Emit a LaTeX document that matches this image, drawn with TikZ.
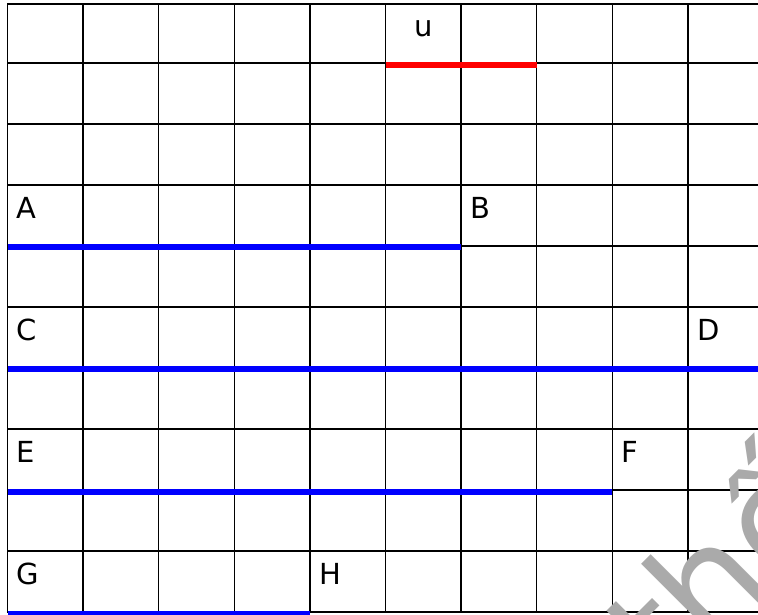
\documentclass[tikz,border=0pt]{standalone}
\usepackage{fontspec}
\setmainfont{DejaVu Sans}
\usetikzlibrary{calc}
\definecolor{markgray}{RGB}{170,170,170}

\begin{document}
\begin{tikzpicture}[x=1pt,y=-1pt,
  gridline/.style={line width=1.5pt, black},
  blueline/.style={line width=5.5pt, blue},
  redline/.style={line width=5.5pt, red},
  cell label/.style={anchor=base west, inner sep=0pt, font=\fontsize{29}{29}\selectfont}]
\def\xmin{7.5}
\def\xmax{758}
\def\ymin{4}
\def\ymax{612}
\def\cw{75.6}
\useasboundingbox (0,0) rectangle (758,614);
\begin{scope}
\clip (0,0) rectangle (758,614);
% grid
\foreach \i in {0,...,10}
  \draw[gridline] ({\xmin+\cw*\i},3.25) -- ({\xmin+\cw*\i},612.75);
\draw[gridline] (\xmin,\ymin) -- (\xmax,\ymin);
\foreach \j in {1,...,10}
  \draw[gridline] (\xmin,{2+61*\j}) -- (\xmax,{2+61*\j});
% segments
\draw[redline] ({\xmin+\cw*5},65) -- ({\xmin+\cw*7},65);
\draw[blueline] (\xmin,247) -- ({\xmin+\cw*6},247);
\draw[blueline] (\xmin,369) -- (\xmax,369);
\draw[blueline] (\xmin,492) -- ({\xmin+\cw*8},492);
\draw[blueline] (\xmin,613.5) -- ({\xmin+\cw*4},613.5);
% labels
\node[cell label, anchor=base] (u) at ({\xmin+\cw*5.5},36) {u};
\node[cell label] (A) at ({\xmin+9},218) {A};
\node[cell label] (B) at ({\xmin+\cw*6+9},218) {B};
\node[cell label] (C) at ({\xmin+9},340) {C};
\node[cell label] (D) at ({\xmin+\cw*9+9},340) {D};
\node[cell label] (E) at ({\xmin+9},462) {E};
\node[cell label] (F) at ({\xmin+\cw*8+9},462) {F};
\node[cell label] (G) at ({\xmin+9},584) {G};
\node[cell label] (H) at ({\xmin+\cw*4+9},584) {H};
% watermark
\node[rotate=45, anchor=base west, inner sep=0pt, text=markgray,
  font=\fontsize{150}{150}\selectfont] (mark) at (671,696) {thế};
\end{scope}
\end{tikzpicture}
\end{document}
